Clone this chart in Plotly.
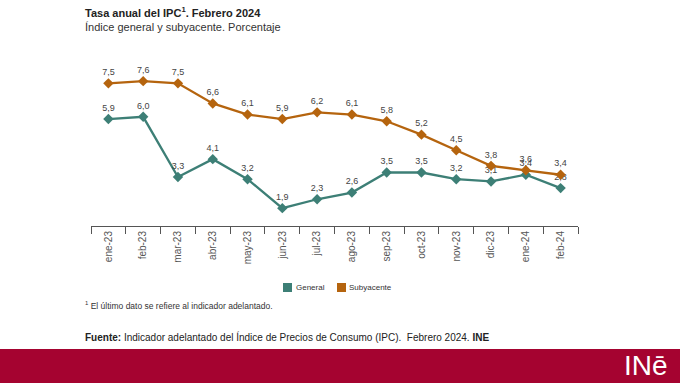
import plotly.graph_objects as go

meses = ["ene-23", "feb-23", "mar-23", "abr-23", "may-23", "jun-23", "jul-23",
         "ago-23", "sep-23", "oct-23", "nov-23", "dic-23", "ene-24", "feb-24"]
general = [5.9, 6.0, 3.3, 4.1, 3.2, 1.9, 2.3, 2.6, 3.5, 3.5, 3.2, 3.1, 3.4, 2.8]
subyacente = [7.5, 7.6, 7.5, 6.6, 6.1, 5.9, 6.2, 6.1, 5.8, 5.2, 4.5, 3.8, 3.6, 3.4]
series = ["General", "Subyacente"]

W, H = 680, 383
L, R, T, B = 91, 578, 70, 226
C_GEN = "#3d7f76"
C_SUB = "#b5640e"
FONT = "Liberation Sans, Arial, sans-serif"

def px(x):
    return (x - L) / (R - L)

def py(y):
    return (B - y) / (B - T)

fig = go.Figure()
for name, vals, col in [(series[0], general, C_GEN), (series[1], subyacente, C_SUB)]:
    fig.add_trace(go.Scatter(
        x=meses, y=vals, mode="lines+markers+text", name=name,
        line=dict(color=col, width=2.3),
        marker=dict(symbol="diamond", size=8, color=col),
        text=[f"{v:.1f}".replace(".", ",") for v in vals],
        textposition="top center",
        textfont=dict(size=9, color="#444", family=FONT),
        showlegend=False, cliponaxis=False,
    ))

fig.update_xaxes(
    type="category", range=[-0.5, len(meses) - 0.5],
    showline=True, linecolor="#555", linewidth=1,
    ticks="outside", tickson="boundaries", ticklen=7, tickcolor="#555",
    tickangle=-90, tickfont=dict(size=10, color="#555", family=FONT),
    showgrid=False, zeroline=False,
)
fig.update_yaxes(range=[1.1, 8.1], visible=False, showgrid=False)

annotations = [
    dict(x=px(83), y=py(12), text="<b>Tasa anual del IPC<sup>1</sup>. Febrero 2024</b>",
         font=dict(size=11, color="#222", family=FONT)),
    dict(x=px(83), y=py(27), text="Índice general y subyacente. Porcentaje",
         font=dict(size=11, color="#333", family=FONT)),
    dict(x=px(83), y=py(305), text="<sup>1</sup> El último dato se refiere al indicador adelantado.",
         font=dict(size=8.5, color="#333", family=FONT)),
    dict(x=px(83), y=py(337),
         text="<b>Fuente:</b> Indicador adelantado del Índice de Precios de Consumo (IPC).  Febrero 2024. <b>INE</b>",
         font=dict(size=10, color="#222", family=FONT)),
    dict(x=px(670), y=py(365), text="INē", xanchor="right",
         font=dict(size=28, color="white", family=FONT)),
    dict(x=px(294), y=py(287), text=series[0],
         font=dict(size=8, color="#333", family=FONT)),
    dict(x=px(347), y=py(287), text=series[1],
         font=dict(size=8, color="#333", family=FONT)),
]
for a in annotations:
    a.setdefault("xanchor", "left")
    a.update(xref="paper", yref="paper", yanchor="middle", showarrow=False)

shapes = [dict(type="rect", xref="paper", yref="paper",
               x0=px(0), x1=px(W), y0=py(349), y1=py(H + 2),
               fillcolor="#a50330", line=dict(width=0), layer="below")]
for x0, col in [(283, C_GEN), (337, C_SUB)]:
    shapes.append(dict(type="rect", xref="paper", yref="paper",
                       x0=px(x0), x1=px(x0 + 9), y0=py(283), y1=py(292),
                       fillcolor=col, line=dict(width=0)))

fig.update_layout(
    width=W, height=H,
    margin=dict(l=L, r=W - R, t=T, b=H - B, pad=0),
    plot_bgcolor="white", paper_bgcolor="white",
    separators=",.",
    showlegend=False,
    annotations=annotations,
    shapes=shapes,
)

fig.write_html("out.html", config={"displayModeBar": False},
               post_script="document.body.style.margin='0';")
